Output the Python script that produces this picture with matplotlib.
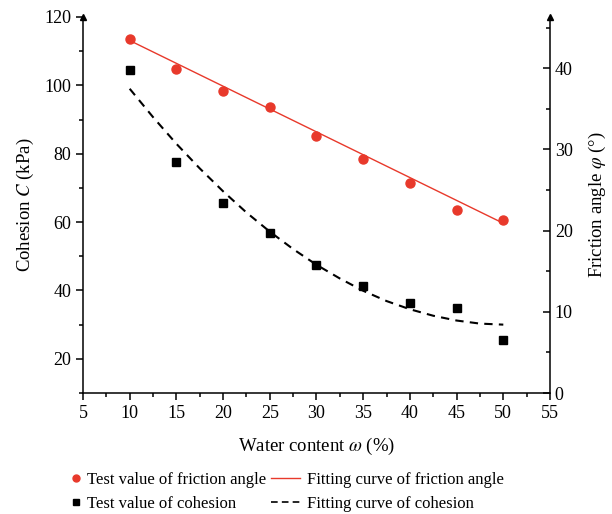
import numpy as np
import matplotlib
matplotlib.use("Agg")
from matplotlib import pyplot as plt
from matplotlib.ticker import MultipleLocator
from matplotlib.lines import Line2D

# water content (%)
water = [10, 15, 20, 25, 30, 35, 40, 45, 50]
# measured values
friction_test = [43.6, 39.9, 37.2, 35.2, 31.6, 28.8, 25.8, 22.5, 21.25]
cohesion_test = [104.5, 77.6, 65.6, 56.9, 47.3, 41.4, 36.3, 34.9, 25.6]

# fitting curves
friction_fit_x = [10, 50]
friction_fit = [43.4, 20.9]
cohesion_fit_x = [10, 12.5, 15, 17.5, 20, 22.5, 25, 27.5, 30, 32.5, 35, 37.5, 40, 42.5, 45, 47.5, 50]
cohesion_fit = [99.0, 90.7, 82.9, 75.7, 69.0, 62.8, 57.2, 52.1, 47.5, 43.5, 39.9, 36.9, 34.5, 32.6, 31.2, 30.3, 30.0]

red = "#e8392b"

plt.rcParams["font.family"] = ["Liberation Serif", "DejaVu Serif"]
plt.rcParams["mathtext.fontset"] = "stix"
plt.rcParams["font.size"] = 13

fig = plt.figure(figsize=(6.12, 5.14), dpi=100)
ax = fig.add_axes([0.1356, 0.2354, 0.8987 - 0.1356, 0.967 - 0.2354])
ax2 = ax.twinx()

ax.plot(water, cohesion_test, ls="none", marker="s", ms=6, color="black")
ax.plot(cohesion_fit_x, cohesion_fit, ls=(0, (4, 3)), lw=1.5, color="black")
ax2.plot(water, friction_test, ls="none", marker="o", ms=6.5, color=red)
ax2.plot(friction_fit_x, friction_fit, ls="-", lw=1.0, color=red)

ax.set_xlim(5, 55)
ax.set_ylim(10, 120)
ax2.set_ylim(0, 46.3)

ax.xaxis.set_major_locator(MultipleLocator(5))
ax.xaxis.set_minor_locator(MultipleLocator(2.5))
ax.yaxis.set_major_locator(MultipleLocator(20))
ax.yaxis.set_minor_locator(MultipleLocator(10))
ax2.yaxis.set_major_locator(MultipleLocator(10))
ax2.yaxis.set_minor_locator(MultipleLocator(5))
ax.set_yticks([20, 40, 60, 80, 100, 120])

for a in (ax, ax2):
    a.spines["top"].set_visible(False)
    for s in a.spines.values():
        s.set_linewidth(1.1)
ax.spines["right"].set_visible(False)
ax2.spines["left"].set_visible(False)
ax2.spines["bottom"].set_visible(False)

ax.tick_params(which="major", direction="out", length=5, width=1.1, labelsize=13)
ax.tick_params(which="minor", direction="out", length=3, width=1.1)
ax2.tick_params(which="major", direction="in", length=5, width=1.1, labelsize=13)
ax2.tick_params(which="minor", direction="in", length=3, width=1.1)

# arrow heads on the vertical axes
ax.plot([0], [1], marker="^", ms=5, color="black", transform=ax.transAxes, clip_on=False)
ax.plot([1], [1], marker="^", ms=5, color="black", transform=ax.transAxes, clip_on=False)

ax.set_xlabel(r"Water content $\mathit{\omega}$ (%)", fontsize=13.5, labelpad=10)
ax.set_ylabel(r"Cohesion $\mathit{C}$ (kPa)", fontsize=13.5, labelpad=6)
ax2.set_ylabel(r"Friction angle $\varphi$ (°)", fontsize=13.5, rotation=90, labelpad=10)

# legend, column one: markers
leg1 = fig.legend(
    [Line2D([], [], ls="none", marker="o", ms=5, color=red),
     Line2D([], [], ls="none", marker="s", ms=5, color="black")],
    ["Test value of friction angle", "Test value of cohesion"],
    loc="upper left", bbox_to_anchor=(0.115, 0.082), frameon=False,
    fontsize=12, handlelength=0.7, handletextpad=0.3, labelspacing=0.5,
    borderpad=0, borderaxespad=0)
# legend, column two: fitting curves
leg2 = fig.legend(
    [Line2D([], [], ls="-", lw=1.0, color=red),
     Line2D([], [], ls=(0, (4, 2.5)), lw=1.2, color="black")],
    ["Fitting curve of friction angle", "Fitting curve of cohesion"],
    loc="upper left", bbox_to_anchor=(0.442, 0.082), frameon=False,
    fontsize=12, handlelength=1.75, handletextpad=0.45, labelspacing=0.5,
    borderpad=0, borderaxespad=0)

fig.savefig("out.png", dpi=100)
